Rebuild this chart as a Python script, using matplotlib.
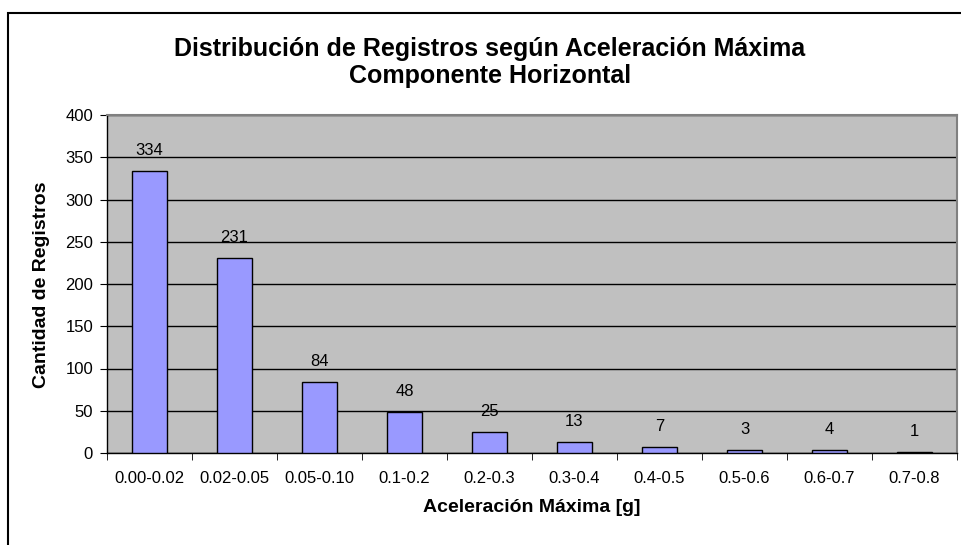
import matplotlib
matplotlib.use("Agg")
import matplotlib.pyplot as plt
import matplotlib.patches as patches
import numpy as np

plt.rcParams['font.family'] = ['Liberation Sans', 'DejaVu Sans']

categorias = ['0.00-0.02', '0.02-0.05', '0.05-0.10', '0.1-0.2', '0.2-0.3',
              '0.3-0.4', '0.4-0.5', '0.5-0.6', '0.6-0.7', '0.7-0.8']
registros = [334, 231, 84, 48, 25, 13, 7, 3, 4, 1]
yticks = [0, 50, 100, 150, 200, 250, 300, 350, 400]

W, H = 961, 545
fig = plt.figure(figsize=(W / 100, H / 100), dpi=100)

# borde del gráfico (se sale por la derecha y por abajo)
fig.add_artist(patches.Rectangle(
    (7.5 / W, -0.05), 1.1, 1 - 12.5 / H + 0.05,
    transform=fig.transFigure, fill=False, ec='k', lw=1.5))

ax = fig.add_axes([107 / W, 1 - 453 / H, 850 / W, 338 / H])
ax.set_facecolor('#C0C0C0')

x = np.arange(len(categorias))
ax.bar(x, registros, width=0.42, color='#9999FF', edgecolor='k', lw=1,
       zorder=3)
for xi, v in zip(x, registros):
    ax.annotate(str(v), (xi, v), xytext=(0, 16), textcoords='offset pixels',
                ha='center', va='baseline', fontsize=12)

ax.set_xlim(-0.5, len(categorias) - 0.5)
ax.set_ylim(0, 400)
ax.set_yticks(yticks)
ax.tick_params(axis='y', direction='out', length=5, labelsize=12, pad=5)
ax.yaxis.grid(True, color='k', lw=1, zorder=1)
ax.set_axisbelow(True)

ax.set_xticks(x)
ax.set_xticklabels(categorias, fontsize=12)
ax.tick_params(axis='x', length=0, pad=13)
ax.set_xticks(np.arange(-0.5, len(categorias)), minor=True)
ax.tick_params(axis='x', which='minor', direction='out', length=5)

for s in ['top', 'right']:
    ax.spines[s].set_color('#808080')
    ax.spines[s].set_linewidth(1.5)
for s in ['left', 'bottom']:
    ax.spines[s].set_color('k')
    ax.spines[s].set_linewidth(1)

fig.text(532 / W, 1 - 512 / H, 'Aceleración Máxima [g]', ha='center',
         va='baseline', fontsize=14, fontweight='bold')
fig.text(42 / W, 1 - 285 / H, 'Cantidad de Registros', ha='center',
         va='center', rotation=90, fontsize=14, fontweight='bold')

fig.text(490 / W, 1 - 56 / H,
         'Distribución de Registros según Aceleración Máxima',
         ha='center', va='baseline', fontsize=18, fontweight='bold')
fig.text(490 / W, 1 - 83 / H, 'Componente Horizontal',
         ha='center', va='baseline', fontsize=18, fontweight='bold')

fig.savefig('out.png', dpi=100)
